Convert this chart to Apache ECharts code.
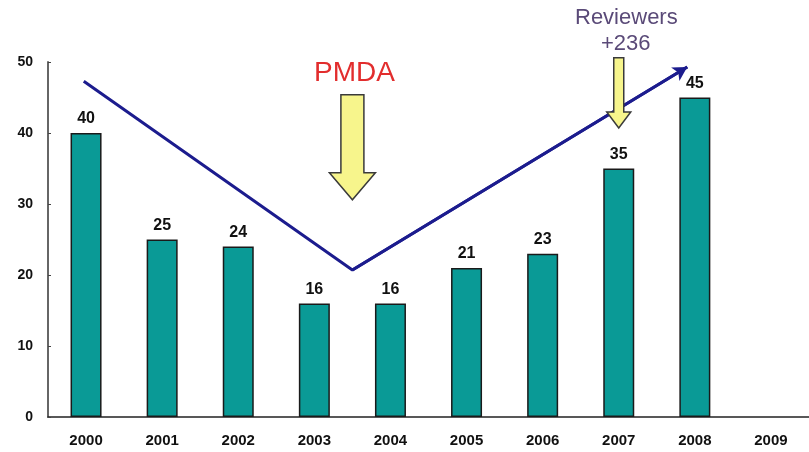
<!DOCTYPE html>
<html>
  <head>
    <meta charset="utf-8" />
    <title>ECharts</title>
    <script src="https://cdn.jsdelivr.net/npm/echarts@6/dist/echarts.min.js"></script>
    <style>
      html, body { margin: 0; padding: 0; background: #fff; }
    </style>
  </head>
  <body>
    <div id="main" style="width: 809px;height:452px;"></div>
    <script type="text/javascript">
      // 数据
      var years = ["2000", "2001", "2002", "2003", "2004", "2005", "2006", "2007", "2008", "2009"];
      var counts = [40, 25, 24, 16, 16, 21, 23, 35, 45, null];
      var yTicks = [0, 10, 20, 30, 40, 50];

      // 趋势线 (x 为类目序号)
      var trendX = [-0.03, 3.5, 7.9];
      var trendY = [47.3, 20.7, 49.3];

      // 黄色箭头: [x, 顶部值, 箭头尖值]
      var pmdaArrow = [3.5, 45.4, 30.6];
      var reviewerArrow = [7.0, 50.6, 40.7];

      var myChart = echarts.init(document.getElementById("main"));

      function arrowItem(params, api) {
        var x = api.value(0);
        var top = api.coord([x, api.value(1)]);
        var tip = api.coord([x, api.value(2)]);
        var big = params.dataIndex === 0;
        var sw = big ? 11.5 : 5;
        var hw = big ? 23 : 12;
        var hl = big ? 27 : 16;
        var cx = top[0];
        var neck = tip[1] - hl;
        return {
          type: "polygon",
          shape: {
            points: [
              [cx - sw, top[1]],
              [cx + sw, top[1]],
              [cx + sw, neck],
              [cx + hw, neck],
              [cx, tip[1]],
              [cx - hw, neck],
              [cx - sw, neck]
            ]
          },
          style: { fill: "#f7f58c", stroke: "#3a3a3a", lineWidth: 1.5 },
          z2: 10
        };
      }

      var trendData = trendX.map(function (x, i) { return [x, trendY[i]]; });

      var option = {
        backgroundColor: "#fff",
        animation: false,
        grid: { left: 48, right: -4, top: 62, bottom: 35 },
        xAxis: [
          {
            type: "category",
            data: years,
            axisLine: { lineStyle: { color: "#222", width: 1.5 } },
            axisTick: { inside: true, length: 6, lineStyle: { color: "#333" } },
            axisLabel: {
              color: "#111",
              fontFamily: "Arial",
              fontWeight: "bold",
              fontSize: 15,
              margin: 16
            }
          },
          {
            type: "value",
            min: -0.5,
            max: 9.5,
            show: false
          }
        ],
        yAxis: {
          type: "value",
          min: yTicks[0],
          max: yTicks[yTicks.length - 1],
          interval: 10,
          splitLine: { show: false },
          axisLine: { show: true, onZero: false, lineStyle: { color: "#666", width: 2 } },
          axisTick: { show: true, inside: true, length: 3, lineStyle: { color: "#444" } },
          axisLabel: {
            color: "#111",
            fontFamily: "Arial",
            fontWeight: "bold",
            fontSize: 14,
            margin: 15
          }
        },
        series: [
          {
            type: "bar",
            data: counts,
            barWidth: 31,
            itemStyle: { color: "#0a9a96", borderColor: "#1a1a1a", borderWidth: 1.5 },
            label: {
              show: true,
              position: "top",
              distance: 6,
              color: "#111",
              fontFamily: "Arial",
              fontWeight: "bold",
              fontSize: 16
            }
          },
          {
            type: "line",
            xAxisIndex: 1,
            data: trendData,
            symbol: "none",
            z: 5,
            lineStyle: { color: "#1c1c8e", width: 3 },
            markLine: {
              silent: true,
              symbol: ["none", "arrow"],
              symbolSize: [12, 14],
              label: { show: false },
              lineStyle: { color: "#1c1c8e", width: 3, type: "solid" },
              data: [[{ coord: trendData[1] }, { coord: trendData[2] }]]
            }
          },
          {
            type: "custom",
            xAxisIndex: 1,
            renderItem: arrowItem,
            data: [pmdaArrow, reviewerArrow],
            z: 10
          }
        ],
        graphic: [
          {
            type: "text",
            left: 314,
            top: 59,
            style: {
              text: "PMDA",
              fill: "#e22d2d",
              font: "28px Arial"
            },
            z: 20
          },
          {
            type: "text",
            left: 575,
            top: 7,
            style: {
              text: "Reviewers",
              fill: "#5a4a78",
              font: "22px Arial"
            },
            z: 20
          },
          {
            type: "text",
            left: 601,
            top: 33,
            style: {
              text: "+236",
              fill: "#5a4a78",
              font: "22px Arial"
            },
            z: 20
          }
        ]
      };

      myChart.setOption(option);
    </script>
  </body>
</html>
